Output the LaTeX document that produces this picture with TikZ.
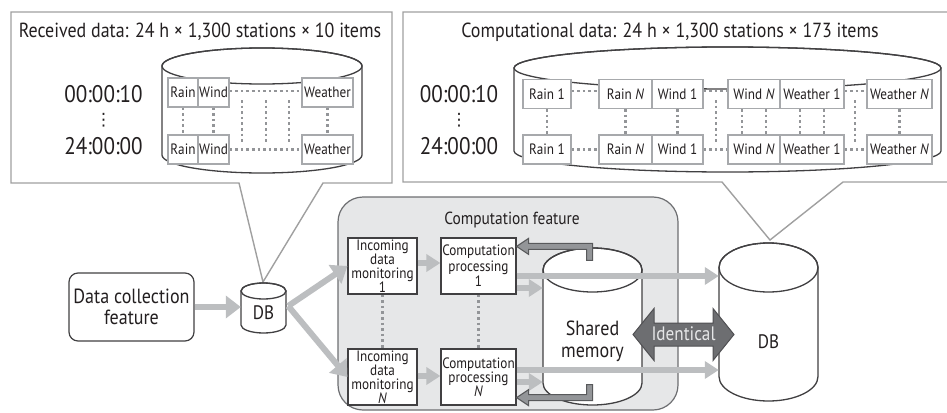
\documentclass[tikz,border=0pt]{standalone}
\usepackage{fontspec}
\setmainfont{PT Sans}[FakeStretch=0.88]
\newfontfamily\symfont{DejaVu Sans}
\usetikzlibrary{arrows.meta,calc}

\definecolor{ink}{HTML}{231F20}
\definecolor{boxline}{HTML}{414042}
\definecolor{calline}{HTML}{A0A0A0}
\definecolor{cellline}{HTML}{A7A9AC}
\definecolor{dotc}{HTML}{939598}
\definecolor{flowc}{HTML}{BCBEC0}
\definecolor{panel}{HTML}{E6E7E8}
\definecolor{panelline}{HTML}{6D6E71}
\definecolor{idfill}{HTML}{6D6E71}
\definecolor{idline}{HTML}{505053}
\definecolor{idtext}{HTML}{E6E7E8}
\definecolor{retfill}{HTML}{939598}
\definecolor{retline}{HTML}{58595B}

\newcommand\setfs[1]{\fontsize{#1}{#1}\selectfont}

% cylinder: style, centre x, top-cap y, bottom-cap y, x radius, y radius
\newcommand\cylpath[6]{%
  \path[#1] (#2-#5,#3) -- (#2-#5,#4)
     arc[start angle=180,end angle=0,x radius=#5,y radius=#6]
     -- (#2+#5,#3)
     arc[start angle=0,end angle=-180,x radius=#5,y radius=#6] -- cycle;
  \path[#1,fill=none] (#2,#3) ellipse[x radius=#5,y radius=#6];
}

\begin{document}
\begin{tikzpicture}[x=1pt,y=-1pt,text=ink,
  callout/.style={draw=calline,line width=1.4pt,fill=white,line join=miter},
  cyl/.style={draw=boxline,line width=1.3pt,fill=white},
  cell/.style={draw=cellline,line width=1.1pt,fill=white,inner sep=0pt,
    minimum height=29pt,font=\setfs{15}},
  dotline/.style={draw=dotc,line width=2.4pt,dash pattern=on 2.6pt off 3pt},
  timelbl/.style={font=\setfs{24},inner sep=0pt},
  vdotlbl/.style={font=\symfont\setfs{17},inner sep=0pt},
  title/.style={font=\setfs{20.4},inner sep=0pt},
  procbox/.style={draw=boxline,line width=1.2pt,fill=white,inner sep=0pt,
    minimum height=56pt,align=center},
  flow/.style={draw=flowc,line width=6pt,-{Triangle[length=15pt,width=22pt]}},
  flowsm/.style={draw=flowc,line width=5.5pt,-{Triangle[length=14pt,width=17pt]}},
  retarrow/.style={fill=retfill,draw=retline,line width=1.1pt,line join=miter},
]
\useasboundingbox (0,0) rectangle (947,412);

% ---------- callouts ----------
\draw[callout] (11,12) -- (392,12) -- (392,183) -- (323,183) -- (263,282)
  -- (239,183) -- (11,183) -- cycle;
\draw[callout] (403,12) -- (955,12) -- (955,182) -- (843,182) -- (770,240)
  -- (722,182) -- (403,182) -- cycle;

\node[title] (t1) at (200,32) {Received data: 24 h × 1,300 stations × 10 items};
\node[title] (t2) at (670,32) {Computational data: 24 h × 1,300 stations × 173 items};

% received data table
\cylpath{cyl}{262}{66}{155}{100}{18}
\node[timelbl] (la) at (103.5,94) {00:00:10};
\node[vdotlbl] (lv) at (103.5,120) {⋮};
\node[timelbl] (lb) at (103.5,146) {24:00:00};

\foreach \r/\y in {t/92.5,b/149.5}{
  \node[cell,minimum width=30pt] (lrain-\r) at (183,\y) {Rain};
  \node[cell,minimum width=31pt] (lwind-\r) at (213.5,\y) {Wind};
  \node[cell,minimum width=51pt] (lwea-\r) at (327.5,\y) {Weather};
}
\draw[dotline] ($(lwind-t.east)+(0,-1.5)$) -- ($(lwea-t.west)+(0,-1.5)$);
\draw[dotline] (lwind-b.east) -- (lwea-b.west);
\foreach \n in {rain,wind,wea}{\draw[dotline] (l\n-t.south) -- (l\n-b.north);}
\foreach \x in {242,266,289}{\draw[dotline] (\x,100) -- (\x,142);}

% computational data table
\cylpath{cyl}{727.5}{68}{151}{213.5}{21}
\node[timelbl] (ra) at (459,94) {00:00:10};
\node[vdotlbl] (rv) at (459,120) {⋮};
\node[timelbl] (rb) at (459,146) {24:00:00};

\foreach \r/\y in {t/94,b/149.5}{
  \node[cell,minimum width=48pt] (rr1-\r) at (547,\y) {Rain 1};
  \node[cell,minimum width=53pt] (rrn-\r) at (625.5,\y) {Rain \textit{N}};
  \node[cell,minimum width=51pt] (rw1-\r) at (677.5,\y) {Wind 1};
  \node[cell,minimum width=52pt] (rwn-\r) at (754,\y) {Wind \textit{N}};
  \node[cell,minimum width=64pt] (re1-\r) at (812,\y) {Weather 1};
  \node[cell,minimum width=65pt] (ren-\r) at (899.5,\y) {Weather \textit{N}};
}
\foreach \a/\b in {rr1/rrn,rw1/rwn,re1/ren}{
  \draw[dotline] ($(\a-t.east)+(0,-3)$) -- ($(\b-t.west)+(0,-3)$);
  \draw[dotline] (\a-b.east) -- (\b-b.west);
}
\foreach \n in {rr1,rrn,rw1,ren}{\draw[dotline] (\n-t.south) -- (\n-b.north);}
\foreach \n in {rwn,re1}{
  \draw[dotline] ($(\n-t.south)+(-12,0)$) -- ($(\n-b.north)+(-12,0)$);
  \draw[dotline] ($(\n-t.south)+(12,0)$) -- ($(\n-b.north)+(12,0)$);
}
\foreach \x in {716,855}{\draw[dotline] (\x,100) -- (\x,144);}

% ---------- flow ----------
\node[draw=panelline,line width=1.2pt,fill=panel,rounded corners=25pt,
  minimum width=340pt,minimum height=213pt,inner sep=0pt] (cf) at (508,303.5) {};
\node[font=\setfs{17.5},inner sep=0pt] (cflbl) at (512,220) {Computation feature};

\node[draw=boxline,line width=1.2pt,rounded corners=9pt,fill=white,
  minimum width=125pt,minimum height=68pt,align=center,
  font=\fontsize{20.5}{21.5}\selectfont] (dc) at (131.5,307) {Data collection\\feature};

\cylpath{cyl}{263.5}{291}{325}{22.5}{8}
\node[font=\setfs{19.5},inner sep=0pt,minimum width=45pt] (db1) at (263.5,313) {DB};

\node[procbox,minimum width=69pt,font=\fontsize{15}{14}\selectfont] (in1) at (382.5,266)
  {Incoming\\data\\monitoring\\1};
\node[procbox,minimum width=69pt,font=\fontsize{15}{14}\selectfont] (inN) at (382.5,377)
  {Incoming\\data\\monitoring\\\textit{N}};
\node[procbox,minimum width=75pt,font=\fontsize{15}{15.5}\selectfont] (cp1) at (478.5,266)
  {Computation\\processing\\1};
\node[procbox,minimum width=75pt,font=\fontsize{15}{14}\selectfont] (cpN) at (478.5,377)
  {Computation\\processing\\\textit{N}};
\draw[dotline] (in1.south) -- (inN.north);
\draw[dotline] (cp1.south) -- (cpN.north);

\draw[flow] (dc.east) -- (dc.east -| db1.west);
\coordinate (dbout) at ($(db1.east)+(2,-7)$);
\draw[flow] (dbout) -- (in1.west);
\draw[flow] (dbout) -- (inN.west);

\cylpath{cyl}{592.5}{270}{383}{49.5}{22}
\node[font=\fontsize{20.5}{22}\selectfont,align=center,inner sep=0pt,minimum width=99pt]
  (sm) at (592.5,341) {Shared\\memory};

\cylpath{cyl}{768.5}{267.5}{376.5}{49.5}{24.5}
\node[font=\setfs{19.5},inner sep=0pt,minimum width=99pt] (db2) at (768.5,342) {DB};

\draw[flowsm] ($(in1.east)+(0,-3)$) -- ($(cp1.west)+(0,-3)$);
\draw[flowsm] ($(inN.east)+(0,-1)$) -- ($(cpN.west)+(0,-1)$);
\coordinate (s1) at ($(cp1.east)+(0,22)$);
\coordinate (s2) at ($(cpN.east)+(0,5)$);
\draw[flowsm] (s1) -- (s1 -| sm.west);
\draw[flowsm] (s2) -- (s2 -| sm.west);
\coordinate (o1) at ($(cp1.east)+(0,10)$);
\coordinate (o2) at ($(cpN.east)+(0,-7)$);
\draw[flowsm] (o1) -- (o1 -| db2.west);
\draw[flowsm] (o2) -- (o2 -| db2.west);

% read-back from shared memory
\draw[retarrow] ($(cp1.north east)+(0,9)$) -- ++(12,-8) -- ++(0,5) -- ++(64,0)
  -- ++(0,17) -- ++(-6,0) -- ++(0,-11) -- ++(-58,0) -- ++(0,5) -- cycle;
\draw[retarrow] ($(cpN.south east)+(0,-8)$) -- ++(12,-8) -- ++(0,5) -- ++(58,0)
  -- ++(0,-10) -- ++(6,0) -- ++(0,16) -- ++(-64,0) -- ++(0,5) -- cycle;

% shared memory and DB hold the same data
\draw[fill=idfill,draw=idline,line width=1pt,line join=miter]
  (633,334.5) -- (654,308.5) -- (654,323) -- (713,323) -- (713,308.5)
  -- (734,334.5) -- (713,360.5) -- (713,346) -- (654,346) -- (654,360.5) -- cycle;
\node[text=idtext,font=\setfs{19.5},inner sep=0pt] (idt) at (683.5,334) {Identical};
\end{tikzpicture}
\end{document}
